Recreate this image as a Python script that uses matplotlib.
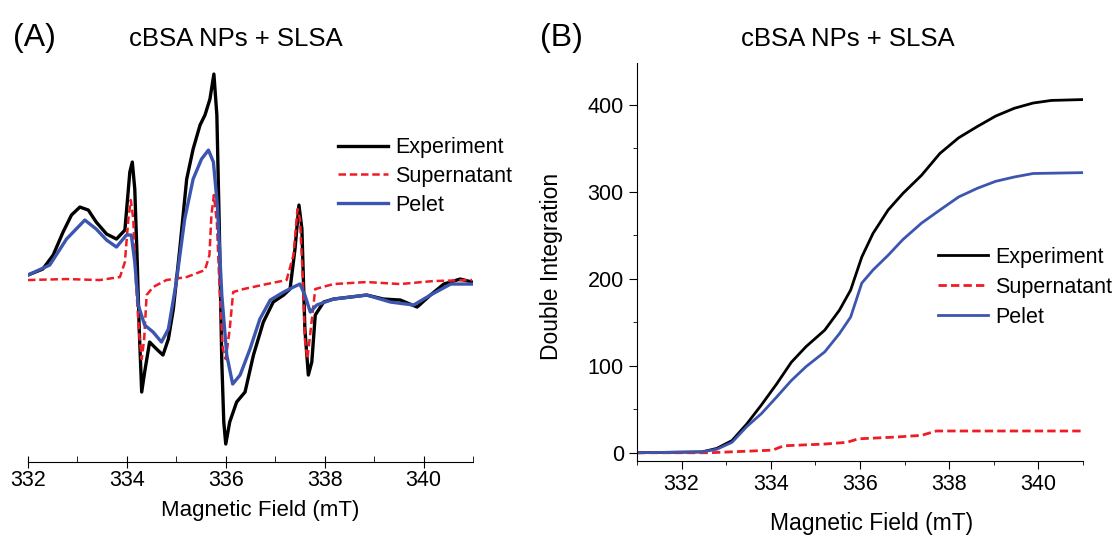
import matplotlib.pyplot as plt
from matplotlib.ticker import MultipleLocator

plt.rcParams['font.family'] = ['Liberation Sans', 'DejaVu Sans']

# ---- panel A: EPR spectra (a.u.) ----
exp_field = [332.00, 332.30, 332.51, 332.71, 332.88, 333.05, 333.22, 333.38, 333.59, 333.79,
             333.96, 334.06, 334.11, 334.16, 334.21, 334.25, 334.30, 334.36, 334.46, 334.60,
             334.73, 334.84, 334.94, 335.07, 335.21, 335.34, 335.48, 335.58, 335.68, 335.76,
             335.82, 335.87, 335.92, 335.96, 336.00, 336.08, 336.22, 336.39, 336.56, 336.76,
             336.96, 337.17, 337.30, 337.40, 337.48, 337.54, 337.60, 337.67, 337.74, 337.81,
             337.98, 338.18, 338.52, 338.85, 339.19, 339.53, 339.87, 340.14, 340.41, 340.74, 340.98]
exp_signal = [2, 8, 22, 45, 62, 70, 67, 55, 43, 38,
              47, 105, 115, 88, 15, -52, -115, -95, -65, -72,
              -78, -62, -32, 28, 98, 128, 152, 162, 178, 203,
              162, 48, -85, -145, -167, -145, -125, -115, -78, -45,
              -25, -18, -12, 28, 72, 48, -52, -98, -85, -38,
              -25, -22, -20, -18, -22, -23, -30, -18, -7, -2, -5]

sup_field = [332.00, 332.78, 333.45, 333.86, 333.96, 334.03, 334.08, 334.13, 334.18, 334.25,
             334.30, 334.35, 334.40, 334.53, 334.80, 335.21, 335.58, 335.67, 335.71, 335.76,
             335.82, 335.88, 335.94, 336.00, 336.08, 336.15, 336.36, 336.83, 337.23, 337.37,
             337.45, 337.50, 337.56, 337.60, 337.65, 337.72, 337.81, 338.18, 338.85, 339.53,
             340.20, 340.98]
sup_signal = [-3, -2, -3, 0, 15, 58, 77, 58, -2, -58,
              -82, -62, -18, -10, -3, 0, 7, 22, 62, 82,
              55, -18, -72, -82, -52, -15, -12, -7, -3, 22,
              68, 58, -2, -62, -82, -52, -12, -7, -5, -7,
              -4, -3]

pel_field = [332.00, 332.44, 332.78, 333.15, 333.38, 333.59, 333.79, 333.99, 334.09, 334.16,
             334.23, 334.36, 334.53, 334.70, 334.84, 335.00, 335.17, 335.34, 335.51, 335.65,
             335.75, 335.83, 335.92, 336.02, 336.14, 336.29, 336.49, 336.69, 336.90, 337.17,
             337.37, 337.50, 337.60, 337.71, 337.84, 338.18, 338.85, 339.33, 339.80, 340.14,
             340.55, 340.98]
pel_signal = [2, 12, 38, 57, 48, 37, 30, 42, 42, 15,
              -28, -48, -55, -65, -52, -5, 58, 98, 118, 127,
              115, 72, -18, -78, -107, -98, -72, -42, -23, -15,
              -10, -7, -18, -35, -28, -22, -18, -25, -28, -18,
              -7, -7]

# ---- panel B: double integration ----
di_exp_field = [331.0, 332.46, 332.79, 333.13, 333.46, 333.79, 334.13, 334.46, 334.79, 335.21,
                335.54, 335.79, 336.04, 336.29, 336.63, 336.96, 337.38, 337.79, 338.21, 338.63,
                339.04, 339.46, 339.88, 340.29, 341.0]
di_exp = [0, 1, 5, 14, 33, 55, 79, 104, 122, 141,
          164, 187, 225, 252, 279, 298, 319, 344, 362, 375,
          387, 396, 402, 405, 406]

di_pel_field = [331.0, 332.46, 332.79, 333.13, 333.46, 333.79, 334.13, 334.46, 334.79, 335.21,
                335.54, 335.79, 336.04, 336.29, 336.63, 336.96, 337.38, 337.79, 338.21, 338.63,
                339.04, 339.46, 339.88, 341.0]
di_pel = [0, 1, 4, 12, 30, 45, 64, 83, 99, 116,
          137, 156, 195, 210, 227, 245, 264, 279, 294, 304,
          312, 317, 321, 322]

di_sup_field = [331.0, 332.63, 334.04, 334.29, 335.21, 335.71, 335.96, 336.79, 337.38, 337.71,
                338.63, 341.0]
di_sup = [0, 0, 3, 8, 10, 12, 16, 18, 20, 25, 25, 25]

labels = ['Experiment', 'Supernatant', 'Pelet']
colors = ['#000000', '#ee1c24', '#3c56b0']
dash = (0, (3, 1.5))

fig = plt.figure(figsize=(11.14, 5.35), dpi=100)

# panel A
axA = fig.add_axes([0.0251, 0.1364, 0.3995, 0.7476])
axA.plot(exp_field, exp_signal, color=colors[0], lw=2.4, label=labels[0])
axA.plot(sup_field, sup_signal, color=colors[1], lw=1.8, ls=dash, label=labels[1])
axA.plot(pel_field, pel_signal, color=colors[2], lw=2.4, label=labels[2])
axA.set_xlim(332, 341)
axA.set_ylim(-185, 215)
for s in ['left', 'right', 'top']:
    axA.spines[s].set_visible(False)
axA.set_yticks([])
axA.xaxis.set_major_locator(MultipleLocator(2))
axA.xaxis.set_minor_locator(MultipleLocator(1))
axA.tick_params(axis='x', which='major', direction='inout', length=8, labelsize=15.5, pad=2)
axA.tick_params(axis='x', which='minor', direction='in', length=4)
axA.set_xlabel('Magnetic Field (mT)', fontsize=16, va='center')
axA.xaxis.set_label_coords(0.521, -0.122)
axA.legend(loc='upper left', bbox_to_anchor=(0.697, 0.8125), frameon=False, fontsize=15.5,
           handlelength=2.33, handletextpad=0.33, labelspacing=0.37, borderpad=0,
           borderaxespad=0)
fig.text(13 / 1114, 0.929, '(A)', fontsize=23, ha='left', va='center')
fig.text(236 / 1114, 0.927, 'cBSA NPs + SLSA', fontsize=18.5, ha='center', va='center')

# panel B
axB = fig.add_axes([0.5718, 0.1383, 0.4004, 0.7439])
axB.plot(di_exp_field, di_exp, color=colors[0], lw=2.0, label=labels[0])
axB.plot(di_sup_field, di_sup, color=colors[1], lw=2.0, ls=dash, label=labels[1])
axB.plot(di_pel_field, di_pel, color=colors[2], lw=2.0, label=labels[2])
axB.set_xlim(331, 341)
axB.set_ylim(-9.5, 448)
for s in ['right', 'top']:
    axB.spines[s].set_visible(False)
axB.xaxis.set_major_locator(MultipleLocator(2))
axB.xaxis.set_minor_locator(MultipleLocator(1))
axB.yaxis.set_major_locator(MultipleLocator(100))
axB.yaxis.set_minor_locator(MultipleLocator(50))
axB.tick_params(which='major', direction='out', length=6, labelsize=15.5)
axB.tick_params(which='minor', direction='out', length=3)
axB.set_xlabel('Magnetic Field (mT)', fontsize=16.5, va='center')
axB.xaxis.set_label_coords(0.525, -0.156)
axB.set_ylabel('Double Integration', fontsize=16.5, va='center')
axB.yaxis.set_label_coords((552 - 637) / 446, 0.49)
axB.legend(loc='upper left', bbox_to_anchor=(0.675, 0.538), frameon=False, fontsize=15.5,
           handlelength=2.33, handletextpad=0.33, labelspacing=0.42, borderpad=0,
           borderaxespad=0)
fig.text(540 / 1114, 0.929, '(B)', fontsize=23, ha='left', va='center')
fig.text(848 / 1114, 0.927, 'cBSA NPs + SLSA', fontsize=18.5, ha='center', va='center')

fig.savefig('out.png', dpi=100)
